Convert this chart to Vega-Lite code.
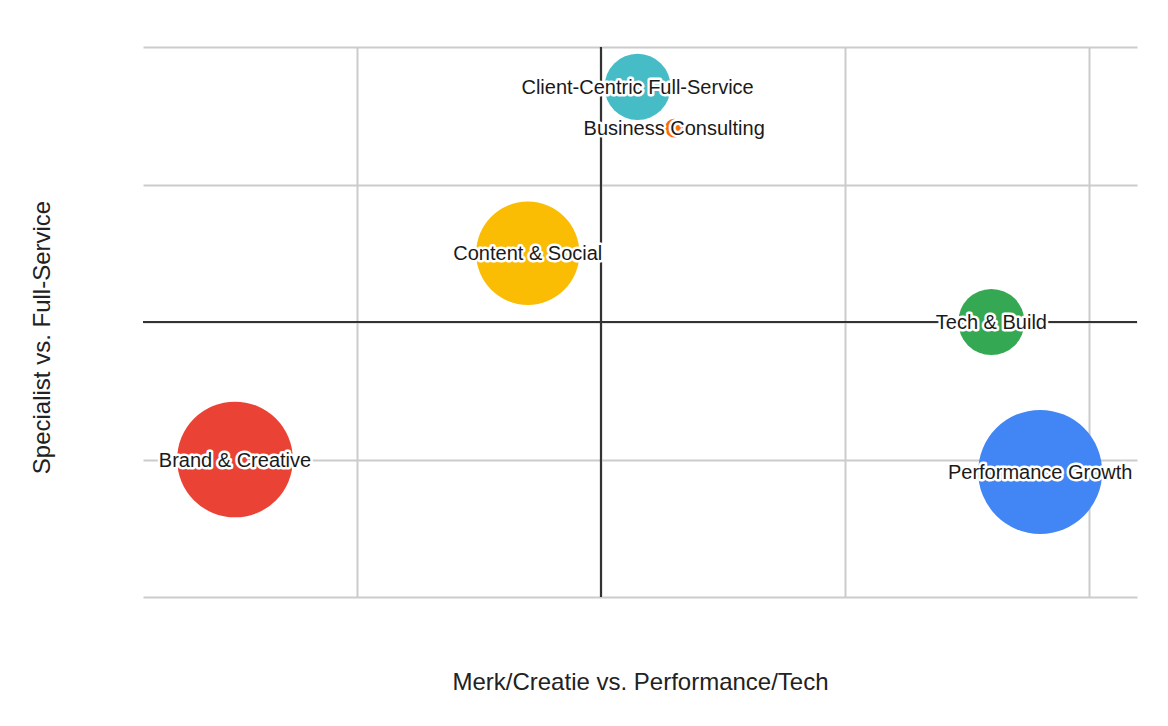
{
  "$schema": "https://vega.github.io/schema/vega-lite/v6.json",
  "autosize": "none",
  "width": 994,
  "height": 550,
  "padding": {"left": 143, "top": 47, "right": 31, "bottom": 129},
  "background": "white",
  "config": {
    "view": {"stroke": null},
    "font": "Liberation Sans",
    "axis": {
      "labels": false,
      "ticks": false,
      "domain": false,
      "grid": true,
      "gridColor": "#cccccc",
      "gridWidth": 2,
      "titleFont": "Liberation Sans",
      "titleFontSize": 24,
      "titleFontWeight": "normal",
      "titleColor": "#222222"
    }
  },
  "data": {
    "values": [
      {"name": "Performance Growth", "x": 9.0, "y": -5.45, "size": 30},
      {"name": "Brand & Creative", "x": -7.5, "y": -5.0, "size": 28},
      {"name": "Content & Social", "x": -1.5, "y": 2.5, "size": 25},
      {"name": "Tech & Build", "x": 8.0, "y": 0.0, "size": 16},
      {"name": "Business Consulting", "x": 1.5, "y": 7.05, "size": 4.5},
      {"name": "Client-Centric Full-Service", "x": 0.75, "y": 8.55, "size": 16}
    ]
  },
  "encoding": {
    "x": {
      "field": "x",
      "type": "quantitative",
      "scale": {"domain": [-9.385, 10.984], "nice": false, "zero": false},
      "axis": {
        "values": [-5, 0, 5, 10],
        "title": "Merk/Creatie vs. Performance/Tech",
        "titleBaseline": "alphabetic",
        "titleAnchor": "middle",
        "titleX": 497,
        "titleY": 92
      }
    },
    "y": {
      "field": "y",
      "type": "quantitative",
      "scale": {"domain": [-10, 10], "nice": false, "zero": false},
      "axis": {
        "values": [-10, -5, 0, 5, 10],
        "title": "Specialist vs. Full-Service",
        "titleAngle": -90,
        "titleAlign": "center",
        "titleBaseline": "alphabetic",
        "titleX": -94,
        "titleY": 290
      }
    }
  },
  "layer": [
    {
      "mark": {"type": "rule", "color": "#333333", "strokeWidth": 2},
      "encoding": {"x": {"datum": 0}, "y": null}
    },
    {
      "mark": {"type": "rule", "color": "#333333", "strokeWidth": 2},
      "encoding": {"y": {"datum": 0}, "x": null}
    },
    {
      "mark": {"type": "circle", "opacity": 1, "strokeWidth": 0},
      "encoding": {
        "size": {
          "field": "size",
          "type": "quantitative",
          "scale": {"type": "pow", "exponent": 2, "domain": [0, 30], "range": [0, 15376]},
          "legend": null
        },
        "color": {
          "field": "name",
          "type": "nominal",
          "scale": {
            "domain": ["Performance Growth", "Brand & Creative", "Content & Social", "Tech & Build", "Business Consulting", "Client-Centric Full-Service"],
            "range": ["#4285F4", "#EA4335", "#FBBC04", "#34A853", "#FF6D01", "#46BDC6"]
          },
          "legend": null
        }
      }
    },
    {
      "mark": {"type": "text", "fontSize": 20, "font": "Liberation Sans", "align": "center", "baseline": "middle", "dy": 1, "fill": "white", "stroke": "white", "strokeWidth": 5, "strokeJoin": "round"},
      "encoding": {"text": {"field": "name"}}
    },
    {
      "mark": {"type": "text", "fontSize": 20, "font": "Liberation Sans", "align": "center", "baseline": "middle", "dy": 1, "fill": "#1a1a1a"},
      "encoding": {"text": {"field": "name"}}
    }
  ]
}
